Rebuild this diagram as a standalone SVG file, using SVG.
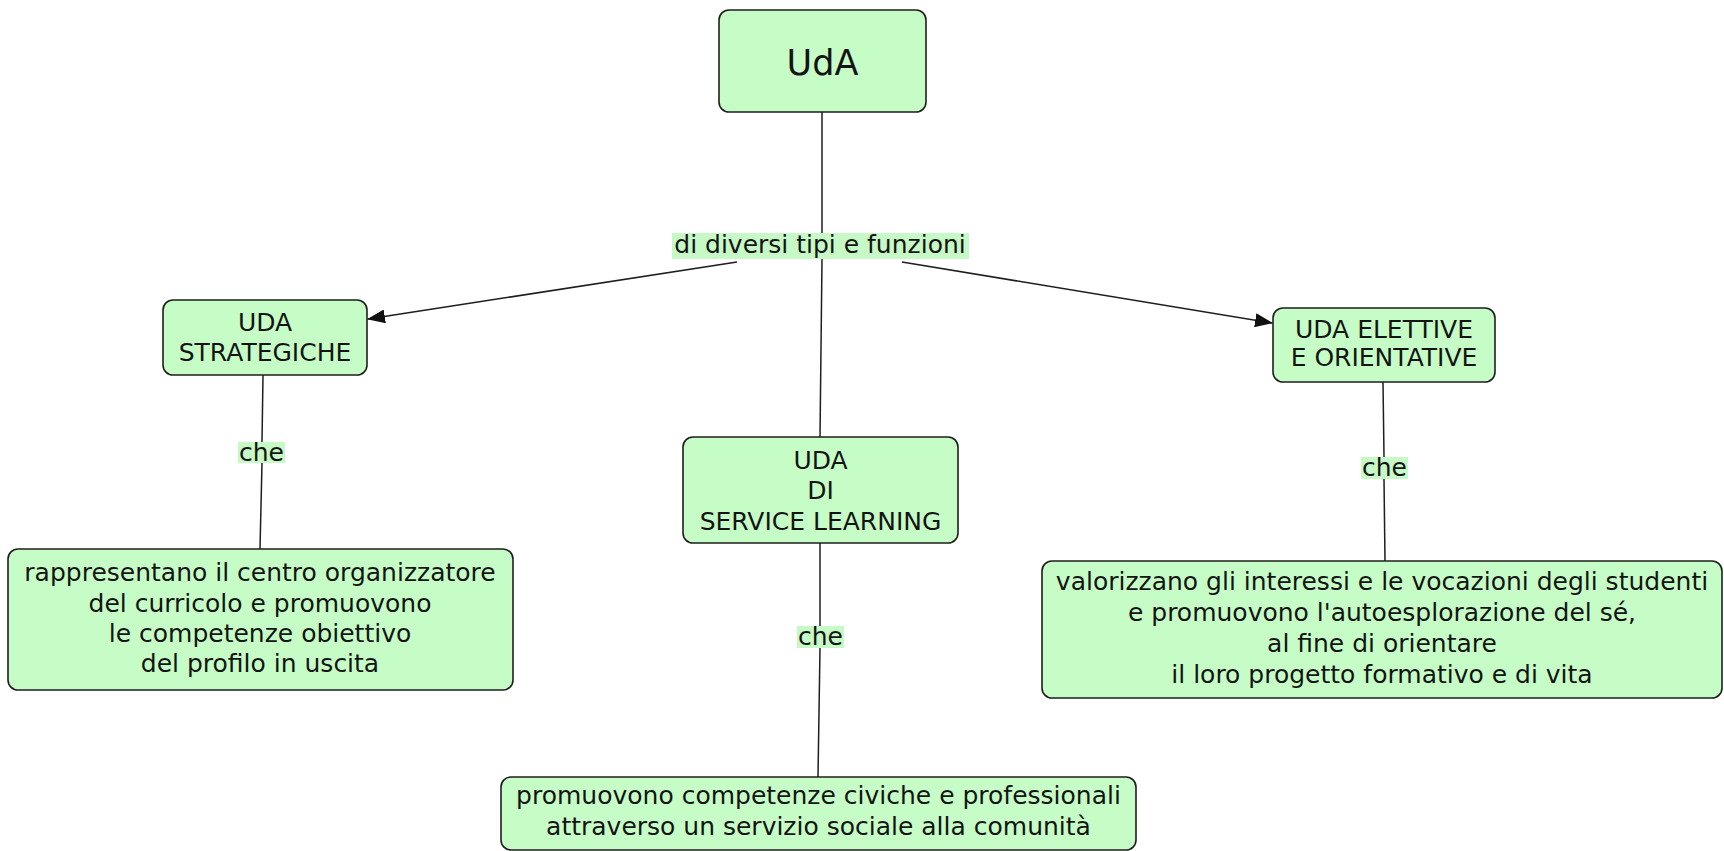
<svg xmlns="http://www.w3.org/2000/svg" width="1724" height="851" viewBox="0 0 1724 851">
<defs>
<marker id="arr" markerUnits="userSpaceOnUse" markerWidth="18" markerHeight="14" refX="17" refY="7" orient="auto">
<path d="M0,0 L18,7 L0,14 Z" fill="#111"/>
</marker>
<style>
.node rect{fill:#c6fdc6;stroke:#1e1e1e;stroke-width:1.6}
.node text,.lbl text{font-family:"DejaVu Sans",Verdana,sans-serif;font-size:25px;fill:#141414;text-anchor:middle}
.lbl rect{fill:#c6f9c6}
.conn line{stroke:#1e1e1e;stroke-width:1.5}
</style>
</defs>
<rect width="1724" height="851" fill="#ffffff"/>
<g id="connectors" class="conn">
<line x1="822" y1="112" x2="822" y2="233"/>
<line x1="822" y1="259" x2="820" y2="437"/>
<line x1="737" y1="262" x2="368" y2="319" marker-end="url(#arr)"/>
<line x1="902" y1="262" x2="1272" y2="323" marker-end="url(#arr)"/>
<line x1="263" y1="375" x2="262" y2="442"/>
<line x1="262" y1="463" x2="260" y2="549"/>
<line x1="820" y1="543" x2="820" y2="626"/>
<line x1="820" y1="648" x2="818" y2="777"/>
<line x1="1383" y1="382" x2="1384" y2="457"/>
<line x1="1384" y1="479" x2="1385" y2="561"/>
</g>
<g id="lbl-tipi" class="lbl"><rect x="672" y="233" width="297" height="26"/><text x="820" y="253">di diversi tipi e funzioni</text></g>
<g id="lbl-che1" class="lbl"><rect x="238" y="442" width="47" height="21"/><text x="261.5" y="461">che</text></g>
<g id="lbl-che2" class="lbl"><rect x="797" y="626" width="47" height="22"/><text x="820.5" y="645">che</text></g>
<g id="lbl-che3" class="lbl"><rect x="1361" y="457" width="47" height="22"/><text x="1384.5" y="476">che</text></g>
<g id="n-uda" class="node"><rect x="719" y="10" width="207" height="102" rx="10"/><text x="822.5" y="75" style="font-size:35px">UdA</text></g>
<g id="n-strat" class="node"><rect x="163" y="300" width="204" height="75" rx="10"/><text x="265" y="331">UDA</text><text x="265" y="361">STRATEGICHE</text></g>
<g id="n-elett" class="node"><rect x="1273" y="308" width="222" height="74" rx="10"/><text x="1384" y="338">UDA ELETTIVE</text><text x="1384" y="366">E ORIENTATIVE</text></g>
<g id="n-service" class="node"><rect x="683" y="437" width="275" height="106" rx="10"/><text x="820.5" y="469">UDA</text><text x="820.5" y="499">DI</text><text x="820.5" y="530">SERVICE LEARNING</text></g>
<g id="n-strat-desc" class="node"><rect x="8" y="549" width="505" height="141" rx="10"/><text x="260" y="581">rappresentano il centro organizzatore</text><text x="260" y="612">del curricolo e promuovono</text><text x="260" y="642">le competenze obiettivo</text><text x="260" y="672">del profilo in uscita</text></g>
<g id="n-elett-desc" class="node"><rect x="1042" y="561" width="680" height="137" rx="10"/><text x="1382" y="590">valorizzano gli interessi e le vocazioni degli studenti</text><text x="1382" y="621">e promuovono l'autoesplorazione del sé,</text><text x="1382" y="652">al fine di orientare</text><text x="1382" y="683">il loro progetto formativo e di vita</text></g>
<g id="n-service-desc" class="node"><rect x="501" y="777" width="635" height="73" rx="10"/><text x="818.5" y="804">promuovono competenze civiche e professionali</text><text x="818.5" y="835">attraverso un servizio sociale alla comunità</text></g>
</svg>
